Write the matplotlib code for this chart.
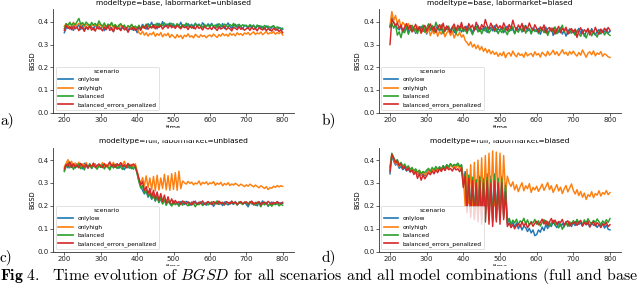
import numpy as np
import matplotlib
matplotlib.use("Agg")
import matplotlib.pyplot as plt
from matplotlib.patches import Rectangle

plt.rcParams['mathtext.fontset'] = 'cm'

time = np.arange(200, 801, 5)
scenarios = ["onlylow", "onlyhigh", "balanced", "balanced_errors_penalized"]
colors = ["#1f77b4", "#ff7f0e", "#2ca02c", "#d62728"]
titles = ["modeltype=base, labormarket=unbiased", "modeltype=base, labormarket=biased",
          "modeltype=full, labormarket=unbiased", "modeltype=full, labormarket=biased"]
panel_labels = ["a)", "b)", "c)", "d)"]
yticks = [0.0, 0.1, 0.2, 0.3, 0.4]
xticks = [200, 300, 400, 500, 600, 700, 800]

# ---- panel a: base / unbiased
a_low = [.352,.371,.384,.368,.379,.362,.381,.374,.389,.366,.383,.361,.378,.372,.386,.377,.365,.388,.371,.380,
         .369,.382,.361,.379,.373,.385,.366,.358,.381,.370,.384,.363,.376,.380,.368,.357,.379,.372,.362,.374,
         .352,.378,.371,.389,.376,.368,.392,.381,.398,.374,.389,.369,.393,.380,.401,.377,.390,.382,.395,.379,
         .391,.376,.388,.380,.398,.379,.386,.377,.392,.381,.389,.371,.394,.383,.390,.378,.396,.384,.380,.391,
         .382,.393,.378,.372,.390,.381,.376,.392,.370,.384,.395,.379,.371,.386,.389,.374,.383,.378,.369,.385,
         .381,.370,.384,.373,.386,.369,.380,.383,.371,.379,.368,.382,.374,.362,.376,.381,.370,.364,.375,.372,
         .366]
a_high = [.380,.392,.376,.395,.384,.398,.379,.387,.393,.381,.396,.377,.389,.383,.375,.390,.382,.386,.374,.391,
          .383,.376,.389,.371,.385,.378,.392,.374,.386,.380,.372,.388,.377,.383,.369,.381,.375,.386,.372,.379,
          .371,.352,.345,.358,.341,.352,.337,.349,.343,.355,.336,.348,.340,.353,.334,.346,.339,.350,.331,.344,
          .336,.328,.344,.332,.340,.326,.341,.335,.347,.333,.339,.329,.345,.337,.331,.343,.335,.340,.330,.338,
          .342,.334,.346,.338,.331,.344,.337,.349,.339,.345,.336,.350,.341,.347,.338,.352,.343,.348,.340,.351,
          .346,.353,.342,.349,.356,.344,.351,.347,.355,.343,.350,.358,.346,.352,.349,.357,.345,.353,.348,.355,
          .342]
a_bal = [.370,.392,.385,.398,.383,.394,.387,.401,.415,.389,.396,.384,.399,.390,.381,.397,.386,.393,.382,.404,
         .389,.381,.395,.376,.390,.384,.397,.379,.388,.372,.385,.392,.378,.386,.365,.383,.377,.389,.374,.381,
         .372,.385,.368,.381,.376,.390,.379,.386,.373,.388,.381,.394,.377,.389,.383,.396,.380,.391,.385,.393,
         .386,.379,.392,.383,.375,.388,.381,.394,.378,.386,.373,.384,.391,.379,.387,.382,.376,.389,.380,.385,
         .377,.389,.381,.386,.375,.392,.383,.379,.390,.384,.376,.388,.381,.393,.378,.385,.389,.380,.387,.382,
         .385,.376,.388,.380,.383,.374,.386,.379,.382,.372,.384,.377,.381,.375,.379,.383,.371,.378,.374,.368,
         .372]
a_pen = [.362,.384,.371,.379,.365,.382,.369,.376,.361,.380,.372,.358,.377,.366,.381,.363,.374,.359,.378,.368,
         .371,.360,.377,.365,.383,.362,.374,.356,.379,.367,.372,.361,.380,.364,.375,.354,.370,.366,.377,.362,
         .369,.376,.362,.380,.371,.385,.367,.378,.373,.387,.369,.381,.375,.384,.368,.379,.383,.372,.386,.374,
         .380,.371,.384,.376,.369,.382,.374,.378,.366,.381,.373,.379,.368,.383,.371,.376,.364,.379,.372,.368,
         .375,.366,.379,.371,.362,.377,.368,.373,.381,.365,.374,.369,.360,.376,.371,.365,.378,.367,.372,.363,
         .369,.374,.362,.377,.366,.371,.360,.375,.368,.364,.373,.361,.370,.366,.359,.372,.363,.368,.357,.365,
         .352]

# ---- panel b: base / biased
b_low = [.375,.420,.398,.385,.372,.364,.381,.352,.369,.375,.358,.384,.362,.371,.349,.376,.365,.380,.357,.368,
         .346,.372,.361,.378,.354,.366,.384,.359,.373,.348,.369,.381,.357,.364,.376,.352,.370,.362,.378,.355,
         .368,.359,.381,.364,.372,.350,.377,.366,.385,.358,.371,.362,.379,.353,.367,.374,.360,.382,.357,.369,
         .363,.376,.352,.369,.381,.358,.371,.365,.349,.374,.362,.378,.355,.366,.384,.359,.368,.351,.373,.364,
         .357,.371,.345,.366,.358,.377,.349,.363,.372,.340,.360,.368,.352,.374,.346,.361,.337,.356,.369,.350,
         .362,.344,.358,.371,.349,.365,.336,.357,.362,.348,.370,.353,.341,.359,.366,.347,.363,.355,.368,.351,
         .358]
b_high = [.385,.445,.405,.428,.392,.410,.377,.398,.386,.371,.392,.362,.385,.374,.356,.381,.365,.349,.372,.360,
          .352,.368,.339,.361,.347,.370,.336,.358,.345,.366,.334,.352,.361,.340,.357,.329,.349,.338,.354,.332,
          .343,.318,.308,.296,.312,.289,.301,.282,.297,.276,.291,.270,.283,.264,.278,.259,.271,.256,.266,.248,
          .262,.251,.268,.242,.259,.264,.249,.271,.255,.246,.263,.252,.258,.244,.266,.250,.257,.261,.247,.268,
          .254,.260,.245,.266,.257,.249,.270,.253,.262,.275,.256,.268,.251,.263,.277,.259,.266,.252,.269,.258,
          .271,.257,.249,.265,.253,.276,.260,.244,.262,.268,.255,.272,.250,.263,.257,.269,.248,.259,.254,.246,
          .243]
b_bal = [.380,.395,.372,.388,.341,.356,.330,.368,.352,.379,.345,.366,.384,.359,.371,.348,.377,.363,.386,.354,
         .372,.391,.365,.384,.357,.398,.376,.362,.387,.350,.374,.366,.381,.355,.369,.378,.346,.372,.360,.383,
         .357,.369,.348,.375,.362,.343,.366,.381,.355,.372,.347,.368,.359,.376,.351,.364,.383,.357,.370,.348,
         .365,.352,.376,.358,.343,.369,.361,.379,.347,.366,.354,.372,.358,.383,.350,.364,.371,.346,.368,.357,
         .369,.348,.362,.375,.352,.366,.340,.359,.371,.355,.378,.347,.363,.368,.385,.354,.372,.358,.349,.366,
         .355,.341,.362,.348,.336,.357,.344,.329,.351,.362,.338,.355,.346,.333,.358,.349,.361,.342,.356,.347,
         .340]
b_pen = [.300,.410,.398,.382,.395,.371,.386,.360,.377,.392,.368,.384,.355,.373,.389,.362,.378,.351,.370,.384,
         .359,.375,.391,.364,.380,.353,.372,.387,.366,.394,.358,.381,.369,.352,.377,.390,.362,.385,.371,.397,
         .366,.380,.359,.392,.374,.386,.361,.398,.379,.365,.388,.372,.410,.383,.369,.394,.376,.362,.389,.371,
         .383,.367,.395,.376,.360,.388,.371,.407,.379,.364,.386,.372,.393,.358,.381,.369,.395,.374,.362,.387,
         .371,.355,.378,.364,.386,.351,.369,.375,.358,.373,.346,.366,.380,.352,.371,.361,.376,.345,.364,.370,
         .352,.368,.331,.359,.374,.348,.365,.356,.371,.342,.363,.351,.376,.357,.345,.368,.353,.372,.359,.375,
         .362]

# ---- panel c: full / unbiased
c_low = [.355,.378,.366,.389,.372,.381,.365,.384,.370,.377,.362,.386,.373,.368,.381,.364,.375,.383,.367,.379,
         .371,.384,.366,.378,.373,.362,.380,.375,.368,.383,.364,.377,.371,.358,.375,.366,.380,.362,.374,.369,
         .345,.310,.285,.268,.252,.264,.238,.251,.229,.244,.221,.237,.216,.230,.212,.226,.208,.219,.214,.205,
         .222,.210,.215,.204,.219,.211,.206,.220,.213,.202,.217,.209,.221,.205,.214,.218,.207,.212,.203,.216,
         .209,.215,.198,.211,.218,.206,.213,.201,.217,.210,.204,.216,.211,.207,.219,.205,.212,.216,.208,.214,
         .207,.196,.213,.219,.204,.211,.200,.216,.209,.222,.205,.213,.198,.210,.217,.206,.212,.219,.208,.214,
         .211]
c_high = [.370,.386,.402,.378,.395,.369,.388,.376,.391,.365,.383,.374,.389,.371,.380,.367,.385,.378,.364,.382,
          .376,.389,.372,.381,.366,.384,.377,.390,.369,.382,.375,.388,.379,.395,.371,.386,.374,.381,.368,.384,
          .352,.318,.296,.324,.287,.331,.279,.322,.271,.329,.266,.334,.269,.322,.276,.338,.270,.332,.268,.341,
          .272,.345,.268,.352,.275,.309,.301,.295,.307,.298,.304,.292,.300,.296,.309,.291,.303,.297,.305,.293,
          .301,.297,.306,.290,.300,.294,.303,.288,.298,.292,.301,.289,.296,.291,.299,.293,.287,.295,.290,.284,
          .292,.286,.295,.289,.283,.291,.285,.279,.288,.282,.276,.284,.271,.280,.277,.286,.281,.289,.283,.288,
          .285]
c_bal = [.350,.372,.388,.366,.381,.359,.376,.369,.384,.362,.374,.357,.379,.368,.385,.363,.377,.371,.360,.374,
         .368,.380,.361,.375,.370,.357,.377,.365,.382,.363,.374,.369,.359,.376,.366,.381,.364,.372,.360,.375,
         .340,.305,.278,.289,.257,.271,.243,.262,.231,.250,.222,.243,.214,.237,.208,.228,.202,.222,.209,.199,
         .217,.205,.211,.198,.214,.203,.219,.207,.200,.213,.204,.210,.196,.212,.205,.215,.201,.209,.213,.204,
         .211,.218,.205,.214,.222,.208,.216,.211,.204,.219,.213,.207,.221,.209,.215,.203,.218,.212,.206,.217,
         .213,.205,.219,.208,.214,.202,.217,.210,.196,.212,.206,.215,.201,.209,.198,.213,.205,.211,.200,.207,
         .203]
c_pen = [.362,.381,.373,.392,.368,.384,.371,.379,.366,.386,.375,.369,.382,.364,.378,.373,.387,.368,.376,.383,
         .374,.367,.385,.371,.379,.392,.373,.381,.369,.384,.376,.389,.372,.380,.367,.385,.374,.378,.383,.371,
         .348,.320,.292,.305,.268,.284,.253,.276,.240,.268,.232,.261,.225,.254,.219,.247,.213,.240,.212,.231,
         .208,.224,.212,.219,.206,.222,.214,.209,.218,.211,.205,.220,.213,.208,.216,.210,.222,.207,.214,.219,
         .212,.206,.219,.213,.208,.221,.210,.216,.205,.218,.214,.209,.220,.211,.217,.207,.213,.219,.210,.215,
         .218,.209,.214,.221,.206,.215,.211,.219,.204,.213,.217,.208,.220,.212,.207,.216,.210,.218,.213,.209,
         .216]

# ---- panel d: full / biased
d_low = [.340,.420,.395,.378,.386,.364,.372,.358,.367,.352,.361,.348,.356,.343,.351,.339,.347,.334,.342,.331,
         .345,.356,.348,.362,.351,.366,.355,.371,.360,.376,.364,.379,.368,.383,.372,.380,.375,.384,.370,.378,
         .300,.350,.190,.330,.170,.320,.150,.310,.160,.330,.140,.320,.160,.340,.150,.330,.140,.340,.150,.320,
         .150,.330,.160,.300,.120,.145,.115,.130,.108,.125,.100,.118,.095,.112,.105,.088,.102,.082,.095,.070,
         .075,.095,.085,.108,.092,.118,.101,.125,.110,.130,.118,.105,.128,.113,.122,.108,.131,.116,.124,.110,
         .128,.114,.135,.119,.126,.111,.130,.117,.123,.108,.127,.115,.121,.106,.118,.112,.124,.103,.116,.098,
         .095]
d_high = [.360,.425,.405,.382,.396,.372,.385,.366,.377,.358,.370,.352,.364,.346,.358,.341,.355,.337,.349,.336,
          .342,.353,.347,.360,.349,.364,.353,.368,.357,.373,.361,.376,.365,.380,.369,.374,.366,.378,.362,.371,
          .330,.200,.360,.210,.380,.200,.390,.190,.400,.200,.410,.190,.420,.200,.430,.210,.440,.200,.435,.210,
          .430,.220,.420,.250,.330,.300,.285,.305,.270,.292,.262,.284,.301,.266,.288,.275,.297,.259,.281,.270,
          .286,.263,.279,.295,.268,.284,.302,.271,.288,.259,.276,.293,.265,.282,.254,.274,.289,.261,.278,.296,
          .267,.252,.271,.245,.263,.238,.256,.228,.249,.241,.262,.236,.254,.247,.266,.243,.258,.251,.267,.249,
          .258]
d_bal = [.370,.430,.412,.395,.402,.381,.390,.372,.383,.366,.375,.359,.368,.353,.362,.347,.356,.342,.350,.345,
         .356,.364,.351,.368,.357,.372,.361,.369,.358,.375,.364,.380,.369,.385,.373,.381,.376,.387,.372,.380,
         .290,.340,.180,.335,.160,.325,.150,.315,.140,.325,.150,.315,.130,.325,.140,.315,.130,.335,.140,.320,
         .140,.320,.150,.290,.130,.145,.120,.138,.126,.142,.118,.135,.128,.146,.122,.139,.115,.132,.125,.141,
         .120,.135,.112,.128,.140,.118,.132,.109,.125,.137,.115,.129,.104,.121,.098,.114,.126,.110,.131,.119,
         .136,.122,.141,.127,.133,.118,.139,.125,.144,.130,.121,.137,.126,.143,.131,.118,.135,.124,.140,.128,
         .145]
d_pen = [.350,.425,.408,.388,.397,.375,.384,.363,.372,.355,.366,.348,.357,.337,.350,.320,.341,.312,.335,.318,
         .331,.345,.336,.352,.340,.357,.345,.362,.350,.366,.354,.370,.358,.364,.352,.368,.357,.362,.349,.365,
         .280,.330,.170,.320,.150,.310,.140,.300,.130,.310,.120,.300,.130,.310,.120,.300,.110,.310,.130,.300,
         .120,.300,.140,.260,.110,.125,.105,.118,.100,.115,.122,.108,.130,.112,.126,.104,.119,.128,.111,.124,
         .133,.117,.128,.142,.121,.136,.115,.130,.145,.124,.138,.119,.132,.127,.141,.116,.129,.135,.112,.126,
         .122,.131,.115,.128,.137,.113,.126,.119,.133,.108,.124,.130,.112,.127,.118,.105,.121,.116,.128,.110,
         .118]

panels = [[a_low, a_high, a_bal, a_pen],
          [b_low, b_high, b_bal, b_pen],
          [c_low, c_high, c_bal, c_pen],
          [d_low, d_high, d_bal, d_pen]]

W, H = 640, 286
fig = plt.figure(figsize=(W / 100, H / 100), dpi=100)

def px_rect(left, right, top, bottom):
    return [left / W, 1 - bottom / H, (right - left) / W, (bottom - top) / H]

axes_px = [(53.4, 293.6, 9.3, 112.7), (379.0, 621.0, 9.3, 112.7),
           (53.4, 293.6, 147.5, 251.7), (379.0, 621.0, 147.5, 251.7)]
label_px = [(0, 120), (322, 120), (0, 257), (322, 257)]

for i, (series, title) in enumerate(zip(panels, titles)):
    ax = fig.add_axes(px_rect(*axes_px[i]))
    for vals, name, col in zip(series, scenarios, colors):
        ax.plot(time, vals, color=col, lw=1.05, label=name)
    ax.set_xlim(170, 830)
    ax.set_ylim(0, 0.455)
    ax.set_xticks(xticks)
    ax.set_yticks(yticks)
    ax.set_yticklabels([f"{v:.1f}" for v in yticks])
    for s in ("top", "right"):
        ax.spines[s].set_visible(False)
    for s in ("left", "bottom"):
        ax.spines[s].set_linewidth(0.6)
        ax.spines[s].set_color("#333333")
    ax.tick_params(labelsize=5, length=2, width=0.5, pad=1.2, colors="#222222")
    ax.set_title(title, fontsize=5.4, pad=3)
    ax.set_ylabel("BGSD", fontsize=4.8, labelpad=2)
    ax.set_xlabel("time", fontsize=4.8, labelpad=1)
    leg = ax.legend(title="scenario", loc="lower left", fontsize=4.2, title_fontsize=4.4,
                    handlelength=2.5, labelspacing=0.55, borderpad=0.4, framealpha=0.8,
                    edgecolor="#cccccc", fancybox=True, borderaxespad=0.4)
    leg.get_frame().set_linewidth(0.5)
    for ln in leg.get_lines():
        ln.set_linewidth(1.2)
    fig.text(label_px[i][0] / W, 1 - label_px[i][1] / H, panel_labels[i],
             fontsize=11, family="cmr10", va="center", ha="left")

# cropped-out parts of the sub-images (bottom of the "time" labels)
for (x0, y0, x1, y1) in [(140, 127.5, 210, 139), (470, 127.5, 540, 139),
                         (140, 265.5, 210, 286), (470, 265.5, 540, 286)]:
    fig.patches.append(Rectangle((x0 / W, 1 - y1 / H), (x1 - x0) / W, (y1 - y0) / H,
                                 transform=fig.transFigure, color="white", zorder=5))

fig.text(0.0, 1 - 280 / H,
         r"$\mathbf{Fig\ 4.}$  Time evolution of $BGSD$ for all scenarios and all model combinations (full and base",
         fontsize=11.4, family="cmr10", ha="left", va="baseline", zorder=10)

fig.savefig("out.png", dpi=100)
